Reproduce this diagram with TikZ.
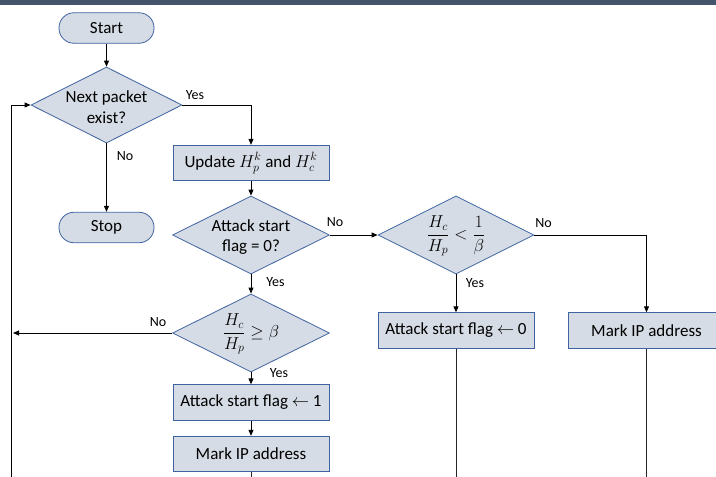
\documentclass[tikz,border=0pt]{standalone}
\usepackage{amsmath}
\usepackage{amssymb}
\usepackage{fontspec}
\setmainfont{Carlito}
\usetikzlibrary{shapes.geometric,arrows.meta}
\definecolor{boxfill}{HTML}{D6DCE5}
\definecolor{boxline}{HTML}{3F63A0}
\definecolor{topbar}{HTML}{44546A}

\begin{document}
\begin{tikzpicture}[x=1pt,y=-1pt]
\tikzstyle{every node}+=[inner sep=0pt,font=\fontsize{17}{20.5}\selectfont]
\tikzstyle{proc}=[draw=boxline,fill=boxfill,line width=0.8pt,minimum width=156pt,minimum height=35.5pt]
\tikzstyle{term}=[proc,rounded corners=15pt,minimum width=95pt,minimum height=30.5pt]
\tikzstyle{decision}=[diamond,draw=boxline,fill=boxfill,line width=0.8pt,minimum width=157pt,minimum height=78pt]
\tikzstyle{flow}=[black,line width=0.9pt,-{Triangle[length=6pt,width=5pt]}]
\tikzstyle{wire}=[black!85,line width=0.9pt]
\tikzstyle{lbl}=[font=\fontsize{14}{16}\selectfont]
\useasboundingbox (0,0) rectangle (716,477);
\fill [topbar] (0,0) rectangle (716,4.5);
\node [term] (start) at (106.5,28) {Start};
\node [decision,minimum width=151pt,minimum height=76pt] (next) at (106.5,105) {};
\node [align=center] (nexttxt) at (106.5,107) {Next packet\\exist?};
\node [term] (stop) at (106.5,227.5) {Stop};
\node [proc] (update) at (251,163) {Update $H_p^k$ and $H_c^k$};
\node [decision] (flag) at (251,235) {};
\node [align=center] (flagtxt) at (251,237) {Attack start\\flag = 0?};
\node [decision] (high) at (251,333) {};
\node (hightxt) at (251,334) {$\dfrac{H_c}{H_p}\geq\beta$};
\node [proc] (set1) at (251,402.5) {Attack start flag $\leftarrow$ 1};
\node [proc] (mark1) at (251,454) {Mark IP address};
\node [decision,minimum width=156pt] (low) at (456,235) {};
\node (lowtxt) at (456,236) {$\dfrac{H_c}{H_p}<\dfrac{1}{\beta}$};
\node [proc] (set0) at (456,330.5) {Attack start flag $\leftarrow$ 0};
\node [proc] (mark2) at (646.5,330.5) {Mark IP address};
\coordinate (loopb) at (11,477);
\coordinate (nohigh) at (13,333);
\draw [flow] (start) -- (next);
\draw [flow] (next.east) -| (update.north);
\draw (195,95) node [lbl] (yes1) {Yes};
\draw [flow] (next) -- (stop);
\draw (125,156) node [lbl] (no1) {No};
\draw [flow] (update) -- (flag);
\draw [flow] (flag) -- (low);
\draw (335,222) node [lbl] (no2) {No};
\draw [flow] (low.east) -| (mark2.north);
\draw (543.5,223) node [lbl] (no4) {No};
\draw [flow] (low) -- (set0);
\draw (475,283) node [lbl] (yes4) {Yes};
\draw [flow] (flag) -- (high);
\draw (275.5,282) node [lbl] (yes2) {Yes};
\draw [flow] (high.west) -- (nohigh);
\draw (158,322) node [lbl] (no3) {No};
\draw [flow] (high) -- (set1);
\draw (279,373) node [lbl] (yes3) {Yes};
\draw [flow] (set1) -- (mark1);
\draw [wire] (mark1.south) -- (mark1.south |- loopb);
\draw [wire] (set0.south) -- (set0.south |- loopb);
\draw [wire] (mark2.south) -- (mark2.south |- loopb);
\draw [flow] (loopb) |- (next.west);
\end{tikzpicture}
\end{document}
